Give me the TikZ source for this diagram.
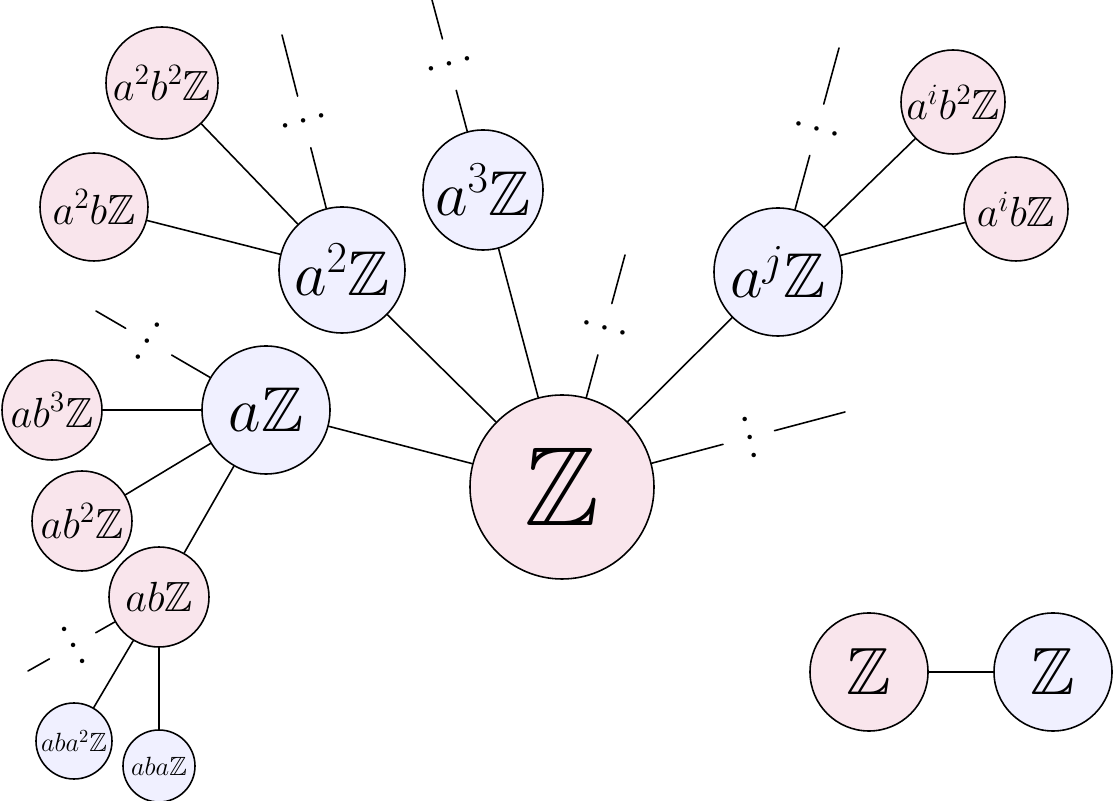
\RequirePackage{fix-cm}
\documentclass[tikz,border=0pt]{standalone}
\usepackage{amssymb}
\usepackage{xcolor}
\usetikzlibrary{calc}

\begin{document}
\begin{tikzpicture}[
  x=1cm,
  y=1cm,
  line cap=round,
  line join=round,
  vertex/.style={circle,draw=black,line width=0.9pt,inner sep=0pt},
  pink vertex/.style={vertex,fill=purple!10},
  blue vertex/.style={vertex,fill=blue!6},
  root text/.style={font=\fontsize{64}{72}\selectfont},
  coset text/.style={font=\fontsize{36}{42}\selectfont},
  leaf text/.style={font=\fontsize{24}{28}\selectfont},
  small text/.style={font=\fontsize{15}{18}\selectfont},
  tree edge/.style={draw=black,line width=0.9pt},
  more dots/.style={circle,minimum size=1cm,inner sep=0pt,
    font=\fontsize{24}{28}\selectfont}
]
  \path[use as bounding box] (0,0) rectangle (22.28,16.02);

  % the tree, grown from the root coset
  \node[pink vertex,root text,minimum size=3.68cm] (Z) at (11.24,6.28) {$\mathbb{Z}$};
  \node[blue vertex,coset text,minimum size=2.56cm] (aZ) at (5.32,7.82) {$a\mathbb{Z}$};
  \node[blue vertex,coset text,minimum size=2.52cm] (a2Z) at (6.84,10.62) {$a^2\mathbb{Z}$};
  \node[blue vertex,coset text,minimum size=2.40cm] (a3Z) at (9.66,12.22) {$a^3\mathbb{Z}$};
  \node[blue vertex,coset text,minimum size=2.56cm] (ajZ) at (15.56,10.58) {$a^j\mathbb{Z}$};

  \node[pink vertex,leaf text,minimum size=2.24cm] (a2b2Z) at (3.24,14.36) {$a^2b^2\mathbb{Z}$};
  \node[pink vertex,leaf text,minimum size=2.16cm] (a2bZ) at (1.88,11.88) {$a^2b\mathbb{Z}$};
  \node[pink vertex,leaf text,minimum size=2.08cm] (aib2Z) at (19.06,13.98) {$a^ib^2\mathbb{Z}$};
  \node[pink vertex,leaf text,minimum size=2.08cm] (aibZ) at (20.32,11.84) {$a^ib\mathbb{Z}$};
  \node[pink vertex,leaf text,minimum size=2.00cm] (ab3Z) at (1.04,7.82) {$ab^3\mathbb{Z}$};
  \node[pink vertex,leaf text,minimum size=2.00cm] (ab2Z) at (1.64,5.60) {$ab^2\mathbb{Z}$};
  \node[pink vertex,leaf text,minimum size=2.00cm] (abZ) at (3.18,4.08) {$ab\mathbb{Z}$};

  \node[blue vertex,small text,minimum size=1.52cm] (aba2Z) at (1.48,1.20) {$aba^2\mathbb{Z}$};
  \node[blue vertex,small text,minimum size=1.44cm] (abaZ) at (3.18,0.70) {$aba\mathbb{Z}$};

  \draw[tree edge] (Z) -- (aZ);
  \draw[tree edge] (Z) -- (a2Z);
  \draw[tree edge] (Z) -- (a3Z);
  \draw[tree edge] (Z) -- (ajZ);
  \draw[tree edge] (a2Z) -- (a2b2Z);
  \draw[tree edge] (a2Z) -- (a2bZ);
  \draw[tree edge] (ajZ) -- (aib2Z);
  \draw[tree edge] (ajZ) -- (aibZ);
  \draw[tree edge] (aZ) -- (ab3Z);
  \draw[tree edge] (aZ) -- (ab2Z);
  \draw[tree edge] (aZ) -- (abZ);
  \draw[tree edge] (abZ) -- (aba2Z);
  \draw[tree edge] (abZ) -- (abaZ);

  % branches that go on: a gap with rotated dots
  \coordinate (a2Z end) at (5.64,15.32);
  \coordinate (a3Z end) at (8.64,16.02);
  \coordinate (Z end up) at (12.50,10.92);
  \coordinate (Z end right) at (16.90,7.78);
  \coordinate (ajZ end) at (16.78,15.06);
  \coordinate (aZ end) at (1.92,9.80);
  \coordinate (abZ end) at (0.56,2.60);

  \node[more dots,rotate=14.3] (a2Z dots) at ($(a2Z)!0.63!(a2Z end)$) {$\cdots$};
  \node[more dots,rotate=15] (a3Z dots) at ($(a3Z)!0.66!(a3Z end)$) {$\cdots$};
  \node[more dots,rotate=-15.2] (Z dots up) at ($(Z)!0.68!(Z end up)$) {$\cdots$};
  \node[more dots,rotate=-75.2] (Z dots right) at ($(Z)!0.66!(Z end right)$) {$\cdots$};
  \node[more dots,rotate=-15.4] (ajZ dots) at ($(ajZ)!0.635!(ajZ end)$) {$\cdots$};
  \node[more dots,rotate=59.8] (aZ dots) at ($(aZ)!0.69!(aZ end)$) {$\cdots$};
  \node[more dots,rotate=-60.5] (abZ dots) at ($(abZ)!0.66!(abZ end)$) {$\cdots$};

  \draw[tree edge] (a2Z) -- (a2Z dots) -- (a2Z end);
  \draw[tree edge] (a3Z) -- (a3Z dots) -- (a3Z end);
  \draw[tree edge] (Z) -- (Z dots up) -- (Z end up);
  \draw[tree edge] (Z) -- (Z dots right) -- (Z end right);
  \draw[tree edge] (ajZ) -- (ajZ dots) -- (ajZ end);
  \draw[tree edge] (aZ) -- (aZ dots) -- (aZ end);
  \draw[tree edge] (abZ) -- (abZ dots) -- (abZ end);

  % the quotient graph
  \node[pink vertex,font=\fontsize{38}{44}\selectfont,minimum size=2.36cm] (quotA) at (17.38,2.58) {$\mathbb{Z}$};
  \node[blue vertex,font=\fontsize{38}{44}\selectfont,minimum size=2.36cm] (quotB) at (21.06,2.58) {$\mathbb{Z}$};
  \draw[tree edge] (quotA) -- (quotB);
\end{tikzpicture}
\end{document}
